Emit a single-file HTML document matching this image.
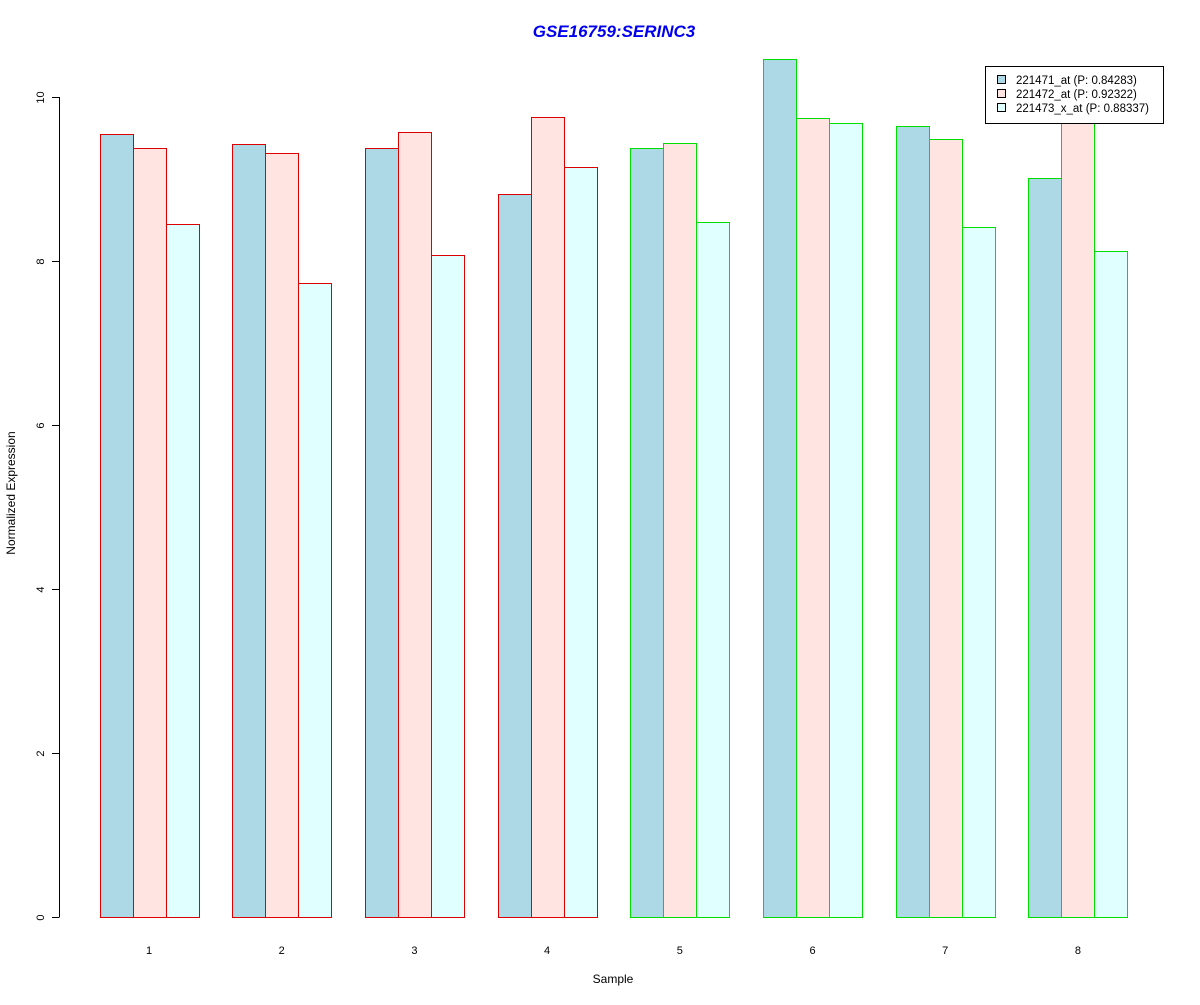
<!DOCTYPE html>
<html><head><meta charset="utf-8">
<style>
body{margin:0;background:#fff;}
svg text{font-family:"Liberation Sans",Arial,sans-serif;}
</style></head>
<body>
<svg id="chart" width="1200" height="1000" xmlns="http://www.w3.org/2000/svg">
<text x="614" y="37" text-anchor="middle" font-size="17" font-weight="bold" font-style="italic" fill="#0000ee">GSE16759:SERINC3</text>
<text x="613" y="983" text-anchor="middle" font-size="12">Sample</text>
<text x="15" y="493" text-anchor="middle" font-size="12" transform="rotate(-90 15 493)">Normalized Expression</text>
<g id="bars"></g>
<g id="axis"></g>
<g>
<rect x="985.5" y="66.5" width="178" height="57" fill="#fff" stroke="#000"/>
<rect x="997.5" y="75.5" width="8" height="8" fill="#add8e6" stroke="#000"/>
<text x="1016" y="84" font-size="11.5">221471_at (P: 0.84283)</text>
<rect x="997.5" y="89.5" width="8" height="8" fill="#ffe4e1" stroke="#000"/>
<text x="1016" y="98" font-size="11.5">221472_at (P: 0.92322)</text>
<rect x="997.5" y="103.5" width="8" height="8" fill="#e0ffff" stroke="#000"/>
<text x="1016" y="112" font-size="11.5">221473_x_at (P: 0.88337)</text>
</g>
</svg>
<script>
const categories = ["1","2","3","4","5","6","7","8"];
const s221471 = [9.55, 9.43, 9.38, 8.82, 9.38, 10.46, 9.65, 9.01];
const s221472 = [9.38, 9.32, 9.57, 9.76, 9.44, 9.74, 9.49, 9.80];
const s221473 = [8.45, 7.73, 8.07, 9.15, 8.48, 9.68, 8.41, 8.12];
const groupColor = ["red","red","red","red","green","green","green","green"];
const yTicks = [0, 2, 4, 6, 8, 10];
const fills = ["#add8e6","#ffe4e1","#e0ffff"];
const strokes = {red:"#dd0000", green:"#00dd00"};
const NS = "http://www.w3.org/2000/svg";
const y0 = 917, pxPerUnit = 82;
function yScale(v){ return y0 - v * pxPerUnit; }
function xGroup(i){ return 99.5 + i * 132.7; }
const bw = 33;
const barsG = document.getElementById('bars');
const series = [s221471, s221472, s221473];
categories.forEach((c, i) => {
  series.forEach((s, j) => {
    const r = document.createElementNS(NS, 'rect');
    
    
    const x = Math.round(xGroup(i) + j * bw), y = Math.round(yScale(s[i]));
    r.setAttribute('x', x + 0.5); r.setAttribute('y', y + 0.5);
    r.setAttribute('width', bw); r.setAttribute('height', y0 - y);
    r.setAttribute('fill', fills[j]); r.setAttribute('stroke', strokes[groupColor[i]]);
    barsG.appendChild(r);
  });
  const t = document.createElementNS(NS, 'text');
  
  
  t.setAttribute('x', xGroup(i) + 1.5 * bw); t.setAttribute('y', 954);
  t.setAttribute('text-anchor', 'middle'); t.setAttribute('font-size', '11');
  t.textContent = c;
  barsG.appendChild(t);
});
const ax = document.getElementById('axis');
const line = document.createElementNS(NS, 'line');


line.setAttribute('x1', 59.5); line.setAttribute('x2', 59.5);
line.setAttribute('y1', yScale(yTicks[0])); line.setAttribute('y2', yScale(yTicks[yTicks.length-1]));
line.setAttribute('stroke', '#000');
ax.appendChild(line);
yTicks.forEach(v => {
  const y = Math.round(yScale(v)) + 0.5;
  const tk = document.createElementNS(NS, 'line');
  
  
  tk.setAttribute('x1', 52); tk.setAttribute('x2', 59.5);
  tk.setAttribute('y1', y); tk.setAttribute('y2', y); tk.setAttribute('stroke', '#000');
  ax.appendChild(tk);
  const t = document.createElementNS(NS, 'text');
  
  
  t.setAttribute('x', 44); t.setAttribute('y', y);
  t.setAttribute('text-anchor', 'middle'); t.setAttribute('font-size', '11');
  t.setAttribute('transform', 'rotate(-90 44 ' + y + ')');
  t.textContent = v;
  ax.appendChild(t);
});
</script>
</body></html>
